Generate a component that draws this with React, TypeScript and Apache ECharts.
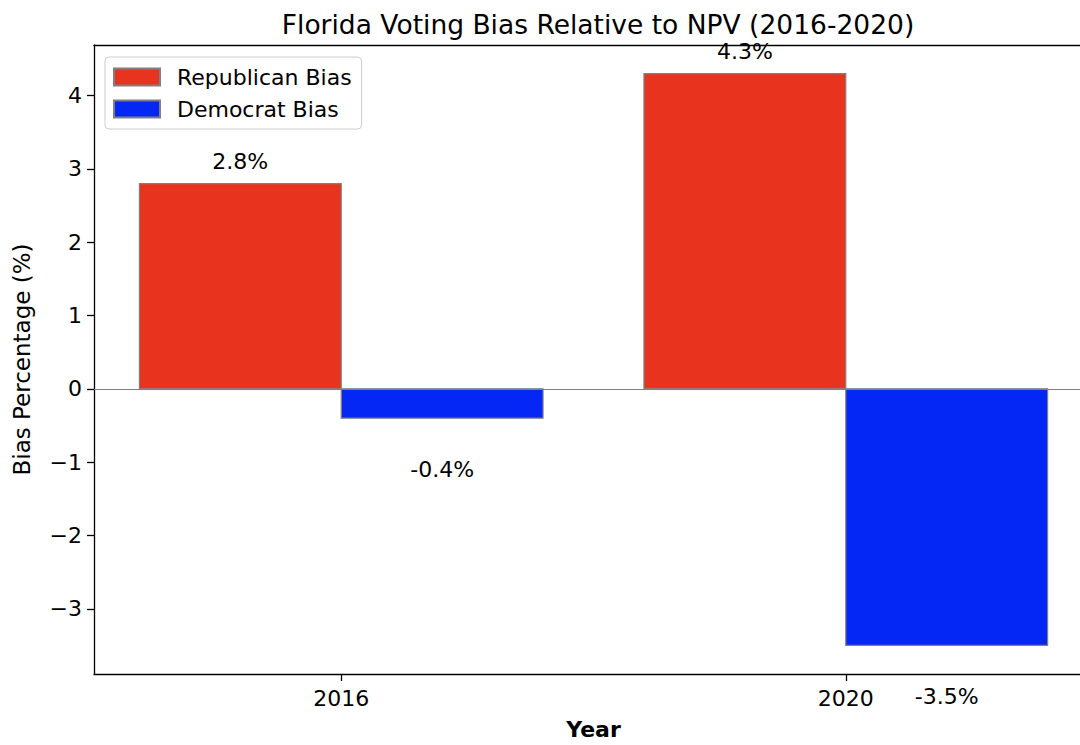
import React, { useEffect, useRef } from "react";
import * as echarts from "echarts";

const years = ["2016", "2020"];
const republicanBias = [2.8, 4.3];
const democratBias = [-0.4, -3.5];
const yTicks = [-3, -2, -1, 0, 1, 2, 3, 4];
const xTicks = [0, 1];

const RED = "#E8341F";
const BLUE = "#0427F5";
const FONT = "DejaVu Sans";

function makeSeries(name: string, values: number[], color: string, x0: number, x1: number) {
  return {
    name,
    type: "custom",
    clip: false,
    itemStyle: { color, borderColor: "#808080", borderWidth: 1 },
    data: values.map((v, i) => [i, v]),
    renderItem: (params: any, api: any) => {
      const x = api.value(0);
      const v = api.value(1);
      const a = api.coord([x + x0, v]);
      const b = api.coord([x + x1, 0]);
      const cx = x + (x0 + x1) / 2;
      const lp = api.coord([cx, v >= 0 ? v + 0.15 : v - 0.55]);
      return {
        type: "group",
        children: [
          {
            type: "rect",
            shape: {
              x: Math.min(a[0], b[0]),
              y: Math.min(a[1], b[1]),
              width: Math.abs(b[0] - a[0]),
              height: Math.abs(b[1] - a[1]),
            },
            style: { fill: color, stroke: "#808080", lineWidth: 1.2 },
          },
          {
            type: "text",
            x: lp[0],
            y: lp[1],
            style: {
              text: v.toFixed(1) + "%",
              fill: "#000",
              font: `22px '${FONT}'`,
              align: "center",
              verticalAlign: v >= 0 ? "bottom" : "top",
            },
          },
        ],
      };
    },
  };
}

export default function App() {
  const ref = useRef<HTMLDivElement>(null);
  useEffect(() => {
    if (!ref.current) return;
    const chart = echarts.init(ref.current, null, { renderer: "svg" });
    const rep: any = makeSeries("Republican Bias", republicanBias, RED, -0.4, 0);
    rep.markLine = {
      silent: true,
      symbol: "none",
      label: { show: false },
      lineStyle: { color: "#808080", width: 1.2, type: "solid" },
      data: [{ yAxis: 0 }],
    };
    const dem: any = makeSeries("Democrat Bias", democratBias, BLUE, 0, 0.4);
    chart.setOption({
      animation: false,
      backgroundColor: "#fff",
      textStyle: { fontFamily: FONT },
      title: {
        text: "Florida Voting Bias Relative to NPV (2016-2020)",
        left: 593,
        textAlign: "center",
        top: 6,
        textStyle: { fontFamily: FONT, fontSize: 26.5, fontWeight: "normal", color: "#000" },
      },
      legend: {
        orient: "vertical",
        left: 105,
        top: 57,
        padding: [9, 10, 9, 8],
        itemGap: 10,
        itemWidth: 46,
        itemHeight: 17,
        icon: "rect",
        borderColor: "#cccccc",
        borderWidth: 1,
        borderRadius: 4,
        backgroundColor: "rgba(255,255,255,0.8)",
        textStyle: { fontFamily: FONT, fontSize: 22, color: "#000", padding: [0, 0, 0, 12] },
        data: ["Republican Bias", "Democrat Bias"],
      },
      grid: {
        left: 94,
        top: 45,
        width: 999,
        height: 630,
        show: false,
        containLabel: false,
      },
      xAxis: [
        {
          type: "value",
          min: -0.49,
          max: 1.49,
          name: "Year",
          nameLocation: "middle",
          nameGap: 44,
          nameTextStyle: { fontFamily: FONT, fontSize: 22, fontWeight: "bold", color: "#000" },
          splitLine: { show: false },
          axisLine: { show: true, onZero: false, lineStyle: { color: "#000", width: 1.3 } },
          axisTick: { show: true, customValues: xTicks, length: 7, lineStyle: { color: "#000", width: 1.3 } },
          axisLabel: {
            customValues: xTicks,
            formatter: (v: number) => years[Math.round(v)],
            fontFamily: FONT,
            fontSize: 22,
            color: "#000",
            margin: 13,
          },
        },
        {
          type: "value",
          position: "top",
          min: -0.49,
          max: 1.49,
          splitLine: { show: false },
          axisLine: { show: true, onZero: false, lineStyle: { color: "#000", width: 1.3 } },
          axisTick: { show: false },
          axisLabel: { show: false },
        },
      ],
      yAxis: {
        type: "value",
        min: -3.89,
        max: 4.69,
        name: "Bias Percentage (%)",
        nameLocation: "middle",
        nameGap: 61,
        nameTextStyle: { fontFamily: FONT, fontSize: 23, color: "#000" },
        splitLine: { show: false },
        axisLine: { show: true, onZero: false, lineStyle: { color: "#000", width: 1.3 } },
        axisTick: { show: true, customValues: yTicks, length: 7, lineStyle: { color: "#000", width: 1.3 } },
        axisLabel: {
          customValues: yTicks,
          formatter: (v: number) => (v < 0 ? "\u2212" + Math.abs(v) : String(v)),
          fontFamily: FONT,
          fontSize: 22,
          color: "#000",
          margin: 12,
        },
      },
      series: [rep, dem],
    });
    return () => chart.dispose();
  }, []);
  return (
    <div style={{ position: "fixed", left: 0, top: 0, width: 1080, height: 745, overflow: "hidden", background: "#fff" }}>
      <div ref={ref} style={{ width: 1110, height: 745 }} />
    </div>
  );
}
